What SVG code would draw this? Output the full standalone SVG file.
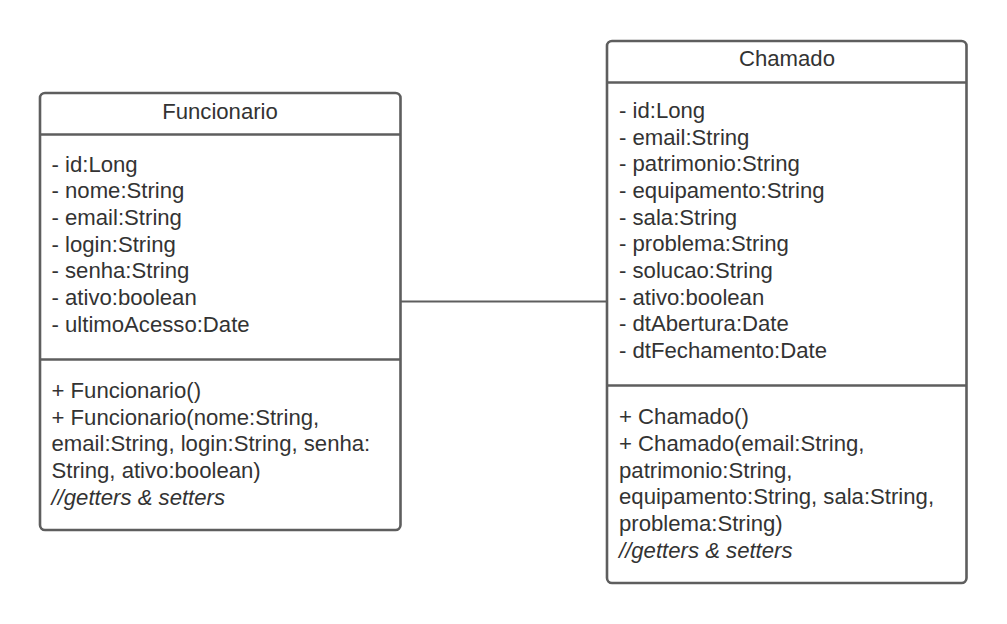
<svg xmlns="http://www.w3.org/2000/svg" width="1007" height="624" viewBox="0 0 1007 624">
<style>
.box{fill:#ffffff;stroke:#5e5e5e;stroke-width:2.6}
.div{stroke:#5e5e5e;stroke-width:2.6;fill:none}
.conn{stroke:#5e5e5e;stroke-width:2;fill:none}
text{font-family:"Liberation Sans",Arial,sans-serif;font-size:22.15px;fill:#333333}
.title{text-anchor:middle}
.it{font-style:italic}
</style>
<rect width="1007" height="624" fill="#ffffff"/>
<g id="connectors">
<line class="conn" x1="400.5" y1="301.5" x2="607" y2="301.5"/>
</g>
<g id="funcionario">
<rect class="box" x="40" y="93" width="360.5" height="437" rx="5"/>
<line class="div" x1="40" y1="134.5" x2="400.5" y2="134.5"/>
<line class="div" x1="40" y1="359.5" x2="400.5" y2="359.5"/>
<text class="title" x="220" y="119.3">Funcionario</text>
<text x="51.5" y="171.5">- id:Long</text>
<text x="51.5" y="198.2">- nome:String</text>
<text x="51.5" y="224.8">- email:String</text>
<text x="51.5" y="251.5">- login:String</text>
<text x="51.5" y="278.2">- senha:String</text>
<text x="51.5" y="304.8">- ativo:boolean</text>
<text x="51.5" y="331.5">- ultimoAcesso:Date</text>
<text x="51.5" y="398">+ Funcionario()</text>
<text x="51.5" y="424.7">+ Funcionario(nome:String,</text>
<text x="51.5" y="451.3">email:String, login:String, senha:</text>
<text x="51.5" y="478">String, ativo:boolean)</text>
<text class="it" x="51.5" y="504.7">//getters &amp; setters</text>
</g>
<g id="chamado">
<rect class="box" x="607" y="41" width="359.5" height="542" rx="5"/>
<line class="div" x1="607" y1="82.5" x2="966.5" y2="82.5"/>
<line class="div" x1="607" y1="385.5" x2="966.5" y2="385.5"/>
<text class="title" x="787" y="66.3">Chamado</text>
<text x="619" y="118">- id:Long</text>
<text x="619" y="144.7">- email:String</text>
<text x="619" y="171.3">- patrimonio:String</text>
<text x="619" y="198">- equipamento:String</text>
<text x="619" y="224.7">- sala:String</text>
<text x="619" y="251.3">- problema:String</text>
<text x="619" y="278">- solucao:String</text>
<text x="619" y="304.7">- ativo:boolean</text>
<text x="619" y="331.3">- dtAbertura:Date</text>
<text x="619" y="358">- dtFechamento:Date</text>
<text x="619" y="424.3">+ Chamado()</text>
<text x="619" y="451">+ Chamado(email:String,</text>
<text x="619" y="477.7">patrimonio:String,</text>
<text x="619" y="504.3">equipamento:String, sala:String,</text>
<text x="619" y="531">problema:String)</text>
<text class="it" x="619" y="557.7">//getters &amp; setters</text>
</g>
</svg>
